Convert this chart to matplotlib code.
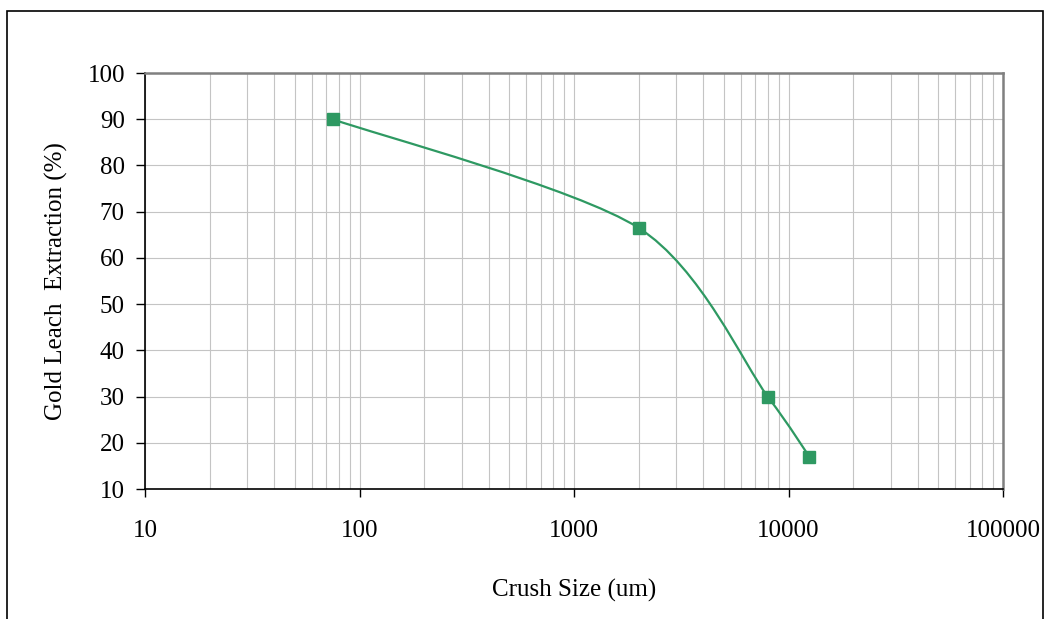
import numpy as np
import matplotlib
matplotlib.use('Agg')
import matplotlib.pyplot as plt
from matplotlib.path import Path
from matplotlib.patches import PathPatch, Rectangle

# Gold leach extraction vs crush size
crushSize = [75, 2000, 8000, 12500]      # um
extraction = [90, 66.5, 30, 17]          # %

xTicks = [10, 100, 1000, 10000, 100000]
xTickLabels = ['10', '100', '1000', '10000', '100000']
yTicks = [10, 20, 30, 40, 50, 60, 70, 80, 90, 100]

lineColor = '#2e9962'

plt.rcParams['font.family'] = ['Liberation Serif', 'DejaVu Serif']
plt.rcParams['font.size'] = 18

fig = plt.figure(figsize=(10.45, 6.19), dpi=100)
ax = fig.add_axes([145/1045, 1-489/619, 858/1045, 416/619])

ax.set_xscale('log')
ax.set_xlim(10, 100000)
ax.set_ylim(10, 100)
ax.set_xticks(xTicks)
ax.set_xticklabels(xTickLabels)
ax.set_yticks(yTicks)
ax.tick_params(axis='x', which='minor', length=0)
ax.tick_params(axis='x', which='major', direction='out', length=6, width=1, pad=16)
ax.tick_params(axis='y', which='major', direction='out', length=6.5, width=1, pad=8)

ax.grid(True, which='major', color='#c4c4c4', linewidth=0.8)
ax.grid(True, which='minor', axis='x', color='#c4c4c4', linewidth=0.8)
ax.set_axisbelow(True)

ax.spines['left'].set_color('black')
ax.spines['bottom'].set_color('black')
ax.spines['left'].set_linewidth(1.2)
ax.spines['bottom'].set_linewidth(1.2)
ax.spines['top'].set_color('#808080')
ax.spines['right'].set_color('#808080')
ax.spines['top'].set_linewidth(1.8)
ax.spines['right'].set_linewidth(1.8)

# smoothed line like the spreadsheet chart: bezier through the points in screen space
W, H = 858.0, 416.0
px = (np.log10(crushSize) - 1) / 4 * W
py = (np.array(extraction) - 10) / 90 * H
pts = np.column_stack([px, py])
n = len(pts)
verts = [pts[0]]
codes = [Path.MOVETO]
k = 1 / 7.0
for i in range(n - 1):
    p0 = pts[i - 1] if i > 0 else pts[i]
    p1 = pts[i]
    p2 = pts[i + 1]
    p3 = pts[i + 2] if i + 2 < n else pts[i + 1]
    c1 = p1 + (p2 - p0) * k
    c2 = p2 - (p3 - p1) * k
    verts += [c1, c2, p2]
    codes += [Path.CURVE4] * 3
verts = np.array(verts)
dataVerts = np.column_stack([10 ** (verts[:, 0] / W * 4 + 1), verts[:, 1] / H * 90 + 10])
ax.add_patch(PathPatch(Path(dataVerts, codes), facecolor='none', edgecolor=lineColor,
                       linewidth=1.6, zorder=3))
ax.plot(crushSize, extraction, linestyle='none', marker='s', markersize=9,
        color=lineColor, zorder=4, clip_on=False)

ax.set_xlabel('Crush Size (um)', labelpad=27)
ax.set_ylabel('Gold Leach  Extraction (%)', labelpad=14)

# chart border
fig.patches.append(Rectangle((7/1045, -0.05), 1036/1045, 1.05 - 11/619, transform=fig.transFigure,
                             fill=False, edgecolor='black', linewidth=1.2, figure=fig))

fig.savefig('out.png', dpi=100)
